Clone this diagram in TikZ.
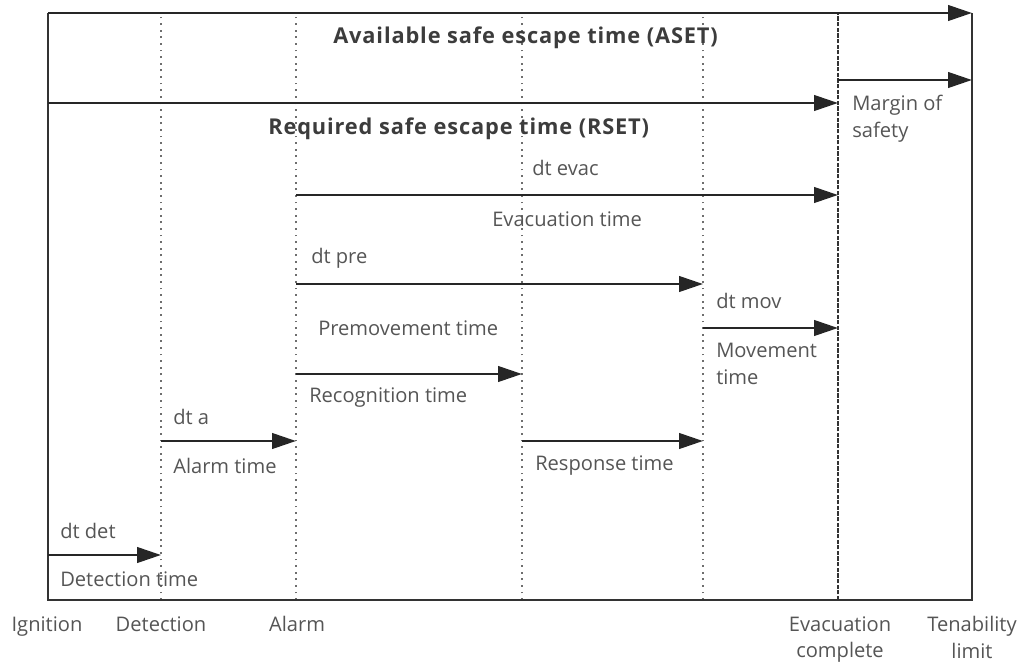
\documentclass[tikz,border=0pt]{standalone}
\usepackage{fontspec}
\setmainfont{Open Sans}
\usetikzlibrary{arrows.meta}
\definecolor{txtcol}{RGB}{85,85,85}
\definecolor{ttlcol}{RGB}{60,60,60}
\definecolor{gridcol}{RGB}{110,110,110}

\begin{document}
\begin{tikzpicture}[x=0.025cm, y=-0.025cm,
  frame/.style={line width=2pt, black!80},
  tarr/.style={line width=1.9pt, black!85, -{Triangle[length=17pt, width=11pt]}},
  evline/.style={gridcol, line width=1.1pt, dash pattern=on 1.3pt off 3.4pt},
  evdash/.style={black!80, line width=1.6pt, dash pattern=on 3pt off 1pt},
  lab/.style={font=\fontsize{14.3}{19}\selectfont, text=txtcol, inner sep=0pt, anchor=west},
  ttl/.style={font=\fontsize{15.5}{19}\selectfont\bfseries\addfontfeature{LetterSpace=4}, text=ttlcol, inner sep=0pt, anchor=west},
  evt/.style={font=\fontsize{14.3}{19}\selectfont, text=txtcol, inner sep=0pt, anchor=north, align=center},
]
\useasboundingbox (0,0) rectangle (1024,663);

% columns (events) and rows (arrow levels)
\coordinate (ign) at (48,600);
\coordinate (det) at (161,600);
\coordinate (alm) at (296,600);
\coordinate (rec) at (522,600);
\coordinate (mov) at (703,600);
\coordinate (evc) at (838,600);
\coordinate (ten) at (972,600);

\coordinate (rA) at (0,13);
\coordinate (rM) at (0,80);
\coordinate (rR) at (0,103);
\coordinate (rE) at (0,195);
\coordinate (rP) at (0,284);
\coordinate (rV) at (0,328);
\coordinate (rC) at (0,374);
\coordinate (rL) at (0,441);
\coordinate (rD) at (0,555);

% event lines
\foreach \c in {det,alm,rec,mov} \draw[evline] (\c) -- (\c |- rA);
\draw[evdash] (evc) -- (evc |- rA);

% frame
\draw[frame] (ign |- rA) -- (ign) -- (ten) -- (ten |- rA);

% time spans
\draw[tarr] (ign |- rA) -- (ten |- rA);
\draw[tarr] (evc |- rM) -- (ten |- rM);
\draw[tarr] (ign |- rR) -- (evc |- rR);
\draw[tarr] (alm |- rE) -- (evc |- rE);
\draw[tarr] (alm |- rP) -- (mov |- rP);
\draw[tarr] (mov |- rV) -- (evc |- rV);
\draw[tarr] (alm |- rC) -- (rec |- rC);
\draw[tarr] (det |- rL) -- (alm |- rL);
\draw[tarr] (rec |- rL) -- (mov |- rL);
\draw[tarr] (ign |- rD) -- (det |- rD);

% span labels
\node[ttl] (aset) at (333,38) {Available safe escape time (ASET)};
\node[ttl] (rset) at (268,129) {Required safe escape time (RSET)};
\node[lab, anchor=north west, align=left] (mrg) at (852,95) {Margin of\\safety};
\node[lab] (dtevac) at (532,168) {dt evac};
\node[lab] (evtime) at (492,219) {Evacuation time};
\node[lab] (dtpre) at (311,258) {dt pre};
\node[lab] (pmtime) at (318,328) {Premovement time};
\node[lab] (dtmov) at (716,301) {dt mov};
\node[lab, anchor=north west, align=left] (mvtime) at (716,343) {Movement\\time};
\node[lab] (rctime) at (309,398) {Recognition time};
\node[lab] (dta) at (173,417) {dt a};
\node[lab] (altime) at (173,466) {Alarm time};
\node[lab] (rstime) at (535,466) {Response time};
\node[lab] (dtdet) at (60,531) {dt det};
\node[lab] (dttime) at (60,579) {Detection time};

% event names
\node[evt] (nign) at (47,616) {Ignition};
\node[evt] (ndet) at (161,616) {Detection};
\node[evt] (nalm) at (297,616) {Alarm};
\node[evt] (nevc) at (840,616) {Evacuation\\complete};
\node[evt] (nten) at (972,616) {Tenability\\limit};

\end{tikzpicture}
\end{document}
